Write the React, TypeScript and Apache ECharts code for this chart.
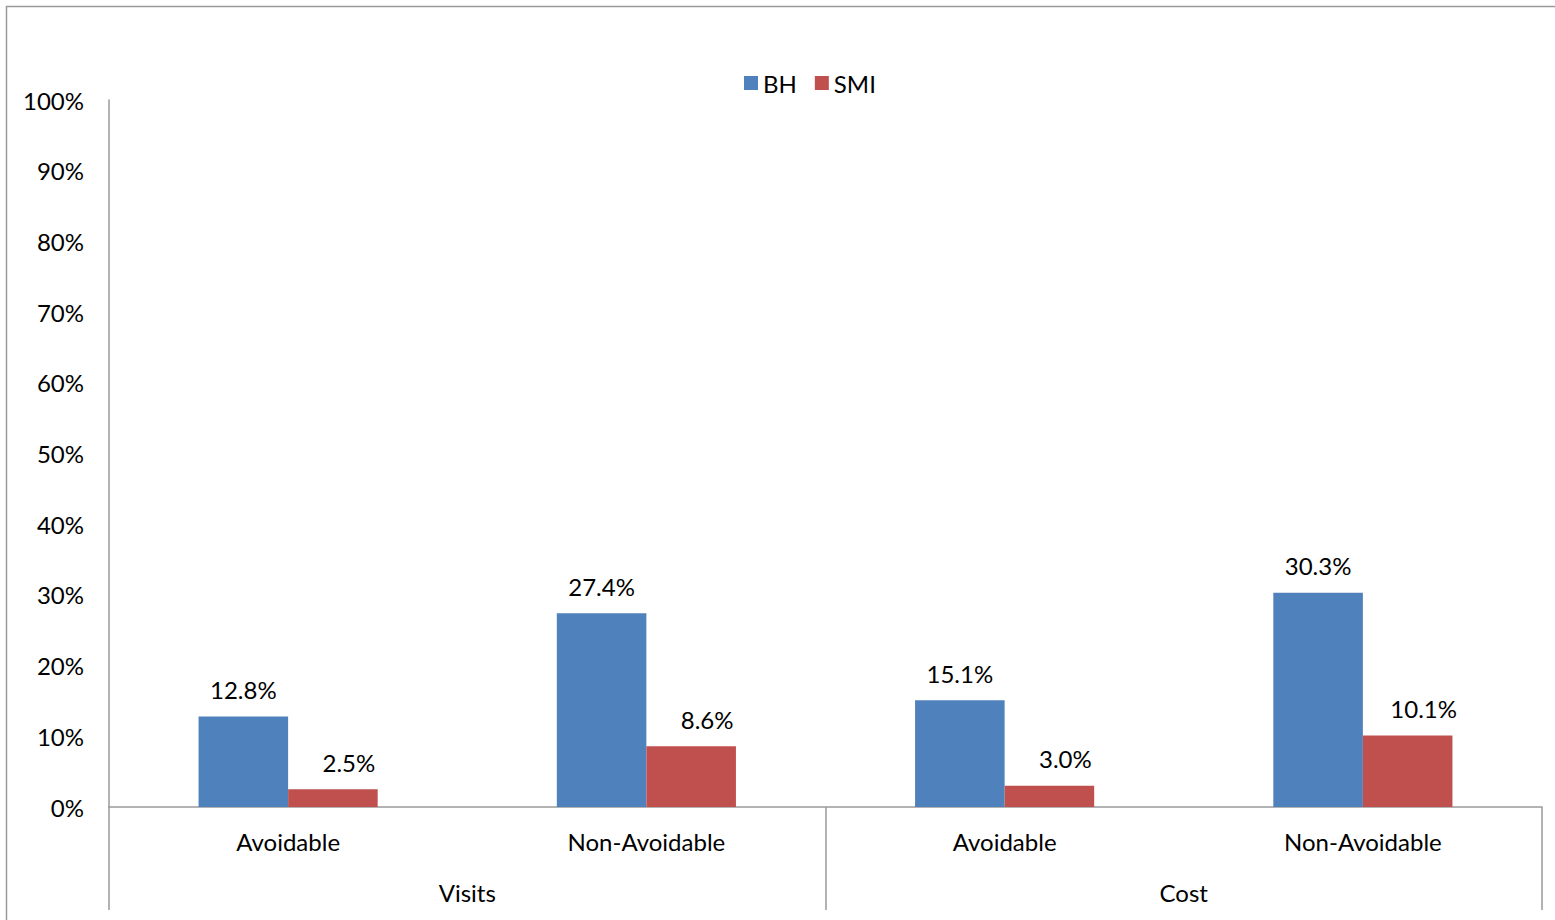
import React, { useEffect, useRef } from "react";
import * as echarts from "echarts";

const categories = ["Avoidable", "Non-Avoidable", "Avoidable", "Non-Avoidable"];
const groups = ["Visits", "Cost"];
const bhValues = [12.8, 27.4, 15.1, 30.3];
const smiValues = [2.5, 8.6, 3.0, 10.1];
const seriesNames = ["BH", "SMI"];

const FONT = "Lato, 'Liberation Sans', sans-serif";
const FS = 24;

export default function App() {
  const ref = useRef<HTMLDivElement>(null);
  useEffect(() => {
    if (!ref.current) return;
    const chart = echarts.init(ref.current, undefined, { renderer: "svg" });
    const labelCfg = {
      show: true,
      position: "top" as const,
      distance: 15,
      color: "#000",
      fontSize: FS,
      fontFamily: FONT,
      formatter: (p: any) => Number(p.value).toFixed(1) + "%",
    };
    chart.setOption({
      animation: false,
      textStyle: { fontFamily: FONT },
      graphic: [
        {
          type: "rect",
          shape: { x: 6.5, y: 6.5, width: 1700, height: 1100 },
          style: { fill: "none", stroke: "#9a9a9a", lineWidth: 1.5 },
          silent: true,
          z: -10,
        },
      ],
      legend: {
        data: seriesNames,
        left: 739,
        top: 66,
        itemWidth: 14,
        itemHeight: 14,
        itemGap: 18,
        icon: "rect",
        textStyle: { fontSize: FS, color: "#000", fontFamily: FONT, padding: [0, 0, 0, 0] },
      },
      grid: { left: 109, right: 13, top: 100, bottom: 113, containLabel: false },
      xAxis: [
        {
          type: "category",
          data: categories,
          position: "bottom",
          axisLine: { show: true, lineStyle: { color: "#9a9a9a", width: 1.5 } },
          axisTick: { show: false },
          axisLabel: { color: "#000", fontSize: FS, fontFamily: FONT, margin: 22, interval: 0 },
        },
        {
          type: "category",
          data: groups,
          position: "bottom",
          axisLine: { show: false },
          axisTick: { show: true, length: 103, interval: 0, lineStyle: { color: "#9a9a9a", width: 1.5 } },
          axisLabel: { color: "#000", fontSize: FS, fontFamily: FONT, margin: 73, interval: 0 },
        },
      ],
      yAxis: {
        type: "value",
        min: 0,
        max: 100,
        interval: 10,
        axisLine: { show: true, lineStyle: { color: "#9a9a9a", width: 1.5 } },
        axisTick: { show: false },
        splitLine: { show: false },
        axisLabel: { color: "#000", fontSize: FS, fontFamily: FONT, margin: 25, formatter: "{value}%" },
      },
      series: [
        {
          name: seriesNames[0],
          type: "bar",
          data: bhValues,
          itemStyle: { color: "#4F81BD" },
          barGap: "0%",
          barCategoryGap: "50%",
          label: labelCfg,
        },
        {
          name: seriesNames[1],
          type: "bar",
          data: smiValues,
          itemStyle: { color: "#C0504D" },
          barGap: "0%",
          barCategoryGap: "50%",
          label: { ...labelCfg, offset: [16, 0] },
        },
      ],
    });
    return () => chart.dispose();
  }, []);
  return (
    <div
      ref={ref}
      style={{ position: "fixed", left: 0, top: 0, width: 1555, height: 920, background: "#fff" }}
    />
  );
}
